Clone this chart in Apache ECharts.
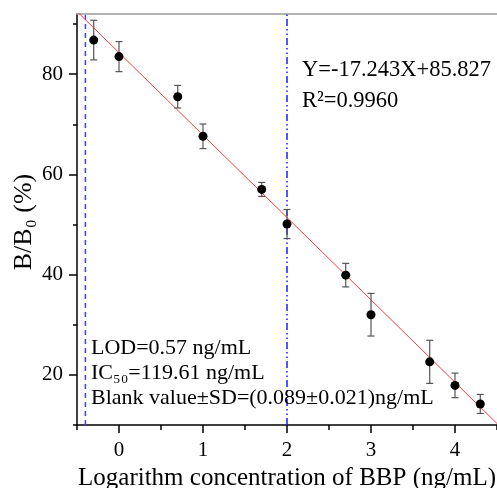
<!DOCTYPE html>
<html><head><meta charset="utf-8">
<script src="https://cdn.jsdelivr.net/npm/echarts@6/dist/echarts.min.js"></script>
<style>html,body{margin:0;padding:0;background:#fff}#c{width:497px;height:488px}</style>
</head><body><div id="c"></div>
<script>
// ---- data ----
const logConc = [-0.301, 0, 0.699, 1, 1.699, 2, 2.699, 3, 3.699, 4, 4.301];
const bb0     = [86.8, 83.5, 75.5, 67.6, 57.0, 50.1, 39.9, 32.0, 22.6, 17.9, 14.2];
const sd      = [3.95, 3.0, 2.25, 2.45, 1.4, 2.9, 2.35, 4.25, 4.3, 2.45, 1.9];
const fitLineX = [-0.5, 4.5];
const fitLineY = [92.5, 10.3];
const lodLineX = -0.4;
const ic50LineX = 2.0;
const xRange = [-0.5, 4.5];
const yRange = [10, 92];
const xMajorTicks = [0, 1, 2, 3, 4];
const xMinorTicks = [-0.5, 0.5, 1.5, 2.5, 3.5, 4.5];
const yMajorTicks = [20, 40, 60, 80];
const yMinorTicks = [10, 30, 50, 70, 90];
const xTitle = 'Logarithm concentration of BBP (ng/mL)';
const yTitle = 'B/B₀ (%)';
const equationText = ['Y=-17.243X+85.827', 'R²=0.9960'];
const infoText = ['LOD=0.57 ng/mL', 'IC₅₀=119.61 ng/mL', 'Blank value±SD=(0.089±0.021)ng/mL'];

const FONT = 'Liberation Serif, Times New Roman, serif';
const chart = echarts.init(document.getElementById('c'), null, {renderer: 'canvas'});

const baseX = {type: 'value', min: xRange[0], max: xRange[1], splitLine: {show: false}, gridIndex: 0};
const baseY = {type: 'value', min: yRange[0], max: yRange[1], splitLine: {show: false}, gridIndex: 0};

chart.setOption({
  animation: false,
  backgroundColor: '#fff',
  grid: {left: 77, right: 0, top: 14, bottom: 63, containLabel: false, outerBoundsMode: 'none'},
  xAxis: [
    Object.assign({}, baseX, {
      position: 'bottom',
      axisLine: {onZero: false, lineStyle: {color: '#000', width: 1.5}},
      axisTick: {show: true, inside: false, length: 8, customValues: xMajorTicks, lineStyle: {color: '#000', width: 1.5}},
      axisLabel: {customValues: xMajorTicks, fontSize: 21, color: '#000', fontFamily: FONT, margin: 15},
      name: xTitle, nameLocation: 'middle', nameGap: 38,
      nameTextStyle: {fontSize: 25, color: '#000', fontFamily: FONT}
    }),
    Object.assign({}, baseX, {
      position: 'bottom',
      axisLine: {show: false, onZero: false},
      axisTick: {show: true, length: 5, customValues: xMinorTicks, lineStyle: {color: '#000', width: 1.5}},
      axisLabel: {show: false}
    }),
    Object.assign({}, baseX, {
      position: 'top',
      axisLine: {onZero: false, lineStyle: {color: '#999', width: 1.5}},
      axisTick: {show: false}, axisLabel: {show: false}
    })
  ],
  yAxis: [
    Object.assign({}, baseY, {
      position: 'left',
      axisLine: {onZero: false, lineStyle: {color: '#000', width: 1.5}},
      axisTick: {show: true, length: 8, customValues: yMajorTicks, lineStyle: {color: '#000', width: 1.5}},
      axisLabel: {customValues: yMajorTicks, fontSize: 21, color: '#000', fontFamily: FONT, margin: 14}
    }),
    Object.assign({}, baseY, {
      position: 'left',
      axisLine: {show: false, onZero: false},
      axisTick: {show: true, length: 4, customValues: yMinorTicks, lineStyle: {color: '#000', width: 1.5}},
      axisLabel: {show: false}
    })
  ],
  series: [
    {
      type: 'line', xAxisIndex: 0, yAxisIndex: 0, clip: true, symbol: 'none',
      data: fitLineX.map((x, i) => [x, fitLineY[i]]),
      lineStyle: {color: '#ff3b3b', width: 1}, z: 2
    },
    {
      type: 'line', xAxisIndex: 0, yAxisIndex: 0, symbol: 'none',
      data: [[lodLineX, yRange[0]], [lodLineX, yRange[1]]],
      lineStyle: {color: '#3d3dff', width: 1.5, type: [5, 4]}, z: 1
    },
    {
      type: 'line', xAxisIndex: 0, yAxisIndex: 0, symbol: 'none',
      data: [[ic50LineX, yRange[0]], [ic50LineX, yRange[1]]],
      lineStyle: {color: '#1a1aff', width: 1.5, type: [7, 3, 1.5, 3, 1.5, 3]}, z: 1
    },
    {
      type: 'custom', xAxisIndex: 0, yAxisIndex: 0, z: 3,
      data: logConc.map((x, i) => [x, bb0[i] - sd[i], bb0[i] + sd[i]]),
      encode: {x: 0, y: [1, 2]},
      renderItem: function (params, api) {
        const x = api.value(0), lo = api.value(1), hi = api.value(2);
        const pLo = api.coord([x, lo]), pHi = api.coord([x, hi]);
        const w = 3.5;
        const style = {stroke: '#555', lineWidth: 1.2, fill: null};
        return {type: 'group', children: [
          {type: 'line', shape: {x1: pLo[0], y1: pLo[1], x2: pHi[0], y2: pHi[1]}, style: style},
          {type: 'line', shape: {x1: pLo[0] - w, y1: pLo[1], x2: pLo[0] + w, y2: pLo[1]}, style: style},
          {type: 'line', shape: {x1: pHi[0] - w, y1: pHi[1], x2: pHi[0] + w, y2: pHi[1]}, style: style}
        ]};
      }
    },
    {
      type: 'scatter', xAxisIndex: 0, yAxisIndex: 0, z: 4,
      symbol: 'circle', symbolSize: 9,
      itemStyle: {color: '#000', opacity: 1},
      data: logConc.map((x, i) => [x, bb0[i]])
    }
  ],
  graphic: [
    {type: 'text', x: 24, y: 222, rotation: Math.PI / 2, z: 10,
     style: {text: yTitle, fontSize: 26, fontFamily: FONT, fill: '#000', align: 'center', verticalAlign: 'middle'}},
    {type: 'text', x: 302, y: 70, z: 10, style: {text: equationText[0], fontSize: 22.5, fontFamily: FONT, fill: '#000', verticalAlign: 'middle'}},
    {type: 'text', x: 302, y: 101, z: 10, style: {text: equationText[1], fontSize: 22.5, fontFamily: FONT, fill: '#000', verticalAlign: 'middle'}},
    {type: 'text', x: 91, y: 348, z: 10, style: {text: infoText[0], fontSize: 22, fontFamily: FONT, fill: '#000', verticalAlign: 'middle'}},
    {type: 'text', x: 91, y: 373, z: 10, style: {text: infoText[1], fontSize: 22, fontFamily: FONT, fill: '#000', verticalAlign: 'middle'}},
    {type: 'text', x: 91, y: 398, z: 10, style: {text: infoText[2], fontSize: 22, fontFamily: FONT, fill: '#000', verticalAlign: 'middle'}}
  ]
});
</script>
</body></html>
